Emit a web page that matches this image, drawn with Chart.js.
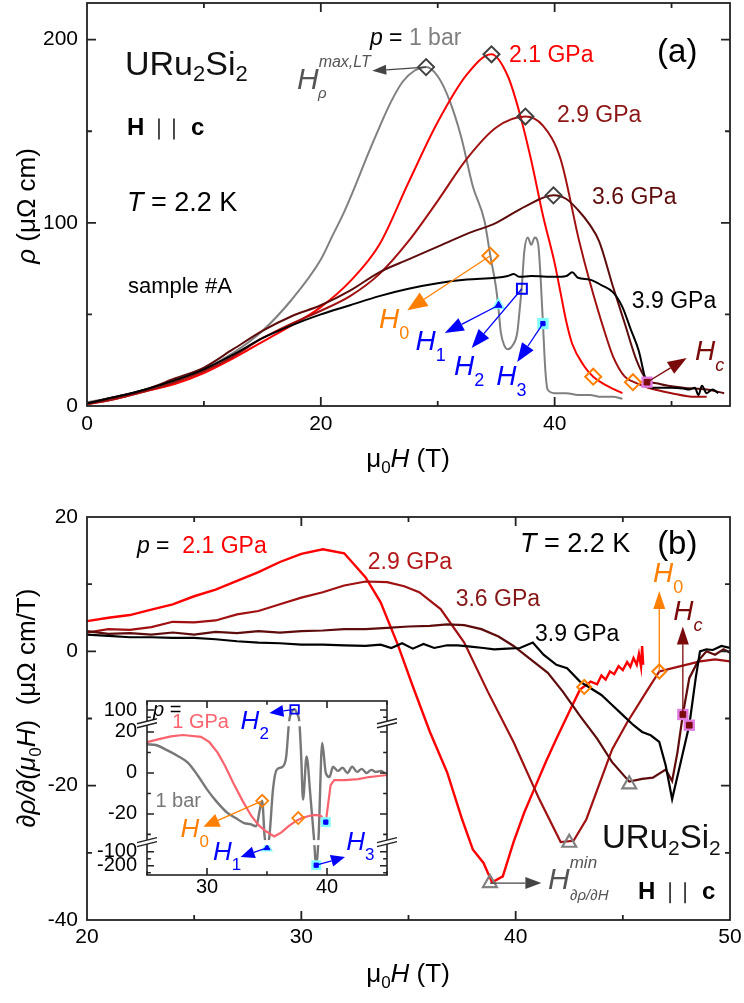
<!DOCTYPE html>
<html>
<head>
<meta charset="utf-8">
<script src="https://cdn.jsdelivr.net/npm/chart.js@4/dist/chart.umd.min.js"></script>
<style>
body { margin: 0; background: #fff; }
#wrap { position: relative; width: 744px; height: 1003px; }
canvas { position: absolute; }
</style>
</head>
<body>
<div id="wrap">
<canvas id="chartA" width="744" height="480" style="left:0;top:0"></canvas>
<canvas id="chartB" width="744" height="523" style="left:0;top:480px"></canvas>
<canvas id="chartIn" width="305" height="215" style="left:95px;top:690px"></canvas>
</div>
<script>
// ---------- panel (a): rho vs mu0H ----------
var fieldA1bar = [0, 2.5, 5, 7.5, 10, 12.5, 15, 17.5, 20, 21, 22, 23, 24, 25, 26, 27, 28, 29, 30, 31, 32, 33, 34, 34.5, 35.0, 35.2, 35.4, 35.7, 36.0, 36.4, 36.8, 37.0, 37.2, 37.4, 37.7, 38.0, 38.3, 38.6, 38.8, 39.0, 39.2, 39.4, 40, 41, 42, 43, 44, 45, 45.8];
var rhoA1bar   = [2, 5, 9, 14, 20, 29, 41, 58, 80, 93, 106, 121, 137, 152, 166, 177, 183, 185, 180, 167, 147, 120, 101, 82, 64, 53, 40, 33, 31, 33, 40, 52, 66, 84, 92, 88, 92, 88, 70, 45, 20, 9, 7, 7, 6, 6, 5, 5, 4];
var fieldA21 = [0, 2.5, 5, 7.5, 10, 12.5, 15, 17.5, 20, 22.5, 25, 27.5, 30, 32.5, 34.6, 36, 37, 38, 39, 40, 40.5, 41, 41.5, 42.5, 43.3, 44.5, 45.8];
var rhoA21   = [1, 4, 8, 12, 18, 26, 35, 44, 54, 68, 88, 122, 155, 181, 192, 180, 160, 134, 104, 78, 62, 46, 34, 22, 16, 11, 7];
var fieldA29 = [0, 2.5, 5, 7.5, 10, 12.5, 15, 17.5, 20, 22.5, 25, 27.5, 30, 32.5, 35, 37.5, 39, 40.5, 42.1, 43, 44.3, 45, 46, 46.8, 48, 50, 52, 53];
var rhoA29   = [1, 4, 8, 13, 19, 27, 37, 45, 52, 60, 72, 90, 112, 135, 152, 158, 153, 135, 90, 68, 40, 27, 16, 13, 10, 7, 5, 5];
var fieldA36 = [0, 2.5, 5, 7.5, 10, 12.5, 15, 17.5, 20, 22.5, 25, 27.5, 30, 32.5, 35, 37.5, 39.9, 41, 42, 43, 43.8, 45, 46, 47, 47.8, 49, 51, 53, 54.5];
var rhoA36   = [1.5, 5, 9, 15, 21, 31, 41, 49, 55, 63, 73, 80, 87, 94, 100, 109, 115, 113, 107, 99, 90, 65, 45, 25, 15, 12, 10, 9, 7];
var fieldA39 = [0, 2.5, 5, 7.5, 10, 12.5, 15, 17.5, 20, 22.5, 25, 27.5, 30, 32.5, 35, 36, 36.5, 37, 38, 40, 41, 41.5, 42, 43, 44, 45, 45.8, 46.5, 47.2, 47.8, 48.3, 49, 50, 51, 51.5, 52, 52.3, 52.6, 53, 53.5, 54];
var rhoA39   = [1.5, 5, 9, 14, 20, 28, 37, 44, 50, 55, 60, 64, 67, 69, 70, 71, 72, 70.5, 71, 70.5, 71, 73, 70, 69, 66, 62, 54, 42, 30, 14, 10, 10, 10, 9.5, 9, 10, 6, 11, 7, 9, 7];
// markers (a)
var hmaxFieldA = [29, 34.6, 37.5, 39.9];
var hmaxRhoA   = [185, 192, 158, 115];
var h0FieldA = [34.5, 43.3, 46.7];
var h0RhoA   = [82, 16, 13];
var h1A = [[35.2, 55]];
var h2A = [[37.2, 64]];
var h3A = [[39.0, 45]];
var hcA = [[47.9, 13]];

// ---------- panel (b): d rho / d(mu0H) ----------
var fieldB21 = [20, 21, 22, 23, 24, 25, 26, 27, 28, 29, 30, 31, 32, 33, 33.7, 34.5, 35.2, 36, 36.8, 37.5, 38, 38.5, 38.9, 39.4, 39.9, 40.4, 40.8, 41.4, 41.9, 42.5, 43, 43.5, 43.8, 44.0, 44.2, 44.4, 44.6, 44.8, 45.0, 45.2, 45.35, 45.5, 45.65, 45.75, 45.85, 45.9, 45.95];
var dB21     = [4.5, 5, 5.4, 6.2, 7, 8.2, 9.2, 10.5, 11.8, 13.3, 14.5, 15.2, 14.6, 11, 7.3, 1, -5.2, -12, -18, -25, -29.5, -31.5, -34.4, -33.5, -28.4, -24, -21, -16.5, -13, -9, -5.7, -4.5, -4.9, -3.6, -4.2, -3, -3.4, -2.2, -2.8, -1.6, -2.3, -1.0, -2.0, -0.4, -2.3, 0.8, -2.0];
var fieldB29 = [20, 21, 22, 23, 24, 25, 26, 27, 28, 29, 30, 31, 32, 33, 34, 34.8, 35.5, 36.5, 37.6, 38.7, 39.9, 41.1, 42.1, 42.7, 43.3, 44.5, 45.2, 46.1, 46.7, 47.7, 48.6, 49.3, 50];
var dB29     = [2.8, 3.3, 3.2, 3.6, 4.4, 4.3, 4.6, 5.5, 6, 7, 8, 8.8, 9.8, 10.4, 10.3, 9.7, 8.8, 6.3, 1.3, -6, -13.5, -22, -28.4, -28.2, -25, -14.6, -10.6, -6, -3, -2.2, -1.5, -1.2, -1.5];
var fieldB36 = [20, 21, 22, 23, 24, 25, 26, 27, 28, 29, 30, 31, 32, 33, 34, 35, 36, 36.8, 37.6, 38.4, 39.2, 39.9, 40.7, 41.5, 42.2, 43, 43.8, 44.5, 45.3, 45.9, 46.4, 47, 47.3, 47.55, 47.8, 48.1, 48.5, 48.9, 49.3, 49.7, 50];
var dB36     = [3, 2.6, 2.7, 2.5, 2.8, 2.5, 2.9, 2.7, 3, 2.8, 3, 3.1, 3.3, 3.3, 3.5, 3.7, 3.8, 4, 3.9, 3.3, 2.2, 0.8, -1.2, -3.2, -6, -9.6, -13, -16.5, -19.4, -19, -18.8, -17.6, -19.3, -15, -9.4, -4, -1.5, 0, -0.5, 0.3, -0.2];
var fieldB39 = [20, 21, 22, 23, 24, 25, 26, 27, 28, 29, 30, 31, 32, 33, 33.7, 34.2, 34.7, 35.2, 35.7, 36.2, 36.8, 37.3, 37.9, 38.5, 39, 39.6, 40.2, 40.8, 41.3, 41.9, 42.4, 43, 43.5, 44, 44.5, 45, 45.5, 45.9, 46.3, 46.7, 47.0, 47.3, 47.7, 48.1, 48.4, 48.6, 48.9, 49.2, 49.6, 50];
var dB39     = [2.5, 2.3, 2.1, 2.1, 2, 2, 1.8, 1.5, 1.3, 1.2, 1, 1, 0.9, 0.8, 1, 0.5, 1.2, 0.4, 1.1, 0.5, 0.9, 0.9, 0.7, 0.5, 0.3, 0.4, 0.5, 1.3, -0.5, -2, -2.5, -4.5, -5.5, -6.5, -8, -9.5, -11, -12, -12.5, -13.5, -17, -22, -16.5, -11, -4, 0, 0.3, 0.2, 0.8, 0.5];
// markers (b)
var hminFieldB = [38.8, 42.5, 45.3];
var hminB      = [-34.5, -28.5, -19.8];
var h0FieldB = [43.2, 46.7];
var h0B      = [-5.3, -3];
var hcFieldB = [47.8, 48.1];
var hcB      = [-9.4, -11];

// ---------- inset: broken y axis ----------
var fieldIn1GPa = [25, 26, 27, 28, 29.5, 30.2, 30.9, 31.5, 32.2, 33, 33.7, 34.3, 34.8, 35.6, 36.2, 36.8, 37.4, 37.9, 38.5, 39, 39.5, 39.9, 40.1, 40.3, 40.6, 41.5, 42.6, 43.5, 44.3, 45];
var dIn1GPa     = [15, 16.5, 17.8, 18.5, 17.6, 15, 9.8, 3.5, -5, -14, -21, -25.5, -28, -31, -29, -26, -23.5, -22, -21, -20.5, -21, -24, -15, -6, -3.5, -3.5, -3, -2, -1.5, -1];
var fieldIn1bar = [25, 25.8, 26.7, 27.5, 28.4, 29.2, 30, 30.8, 31.7, 32.4, 33.1, 33.6, 34.1, 34.4, 34.6, 34.8, 35.0, 35.2, 35.5, 35.8, 36.3, 36.6, 36.85, 37.05, 37.3, 37.5, 37.7, 37.85, 38.0, 38.3, 38.6, 38.9, 39.1, 39.3, 39.6, 39.9, 40.2, 40.5, 40.9, 41.3, 41.7, 42.1, 42.5, 42.9, 43.3, 43.7, 44.1, 44.5, 44.8];
var dIn1bar     = [14, 13.5, 11, 8.5, 5, -1, -8, -14, -19.5, -22, -24.5, -25, -26, -18, -13.6, -31, -72, -31, -8, 1.5, 3, 8, 40, 90, 104, 80, 30, 8, -13, 8, -10, -31, -196, -31, 14.6, 0, -2, 3, 1, 2.5, 0, 3, 0.5, 2, 0, 1.5, 0.5, 1, 0];
var insetYTicks = [100, 20, 0, -20, -100, -200];
var insetYMinor = [60, 10, -10, -30, -150, -250];
var insetBreaks = [24, -34];
var h0FieldIn = [34.6, 37.6];
var h0In      = [-13.6, -22];
var h1In = [[35.0, -72]];
var h2In = [[37.3, 104]];
var h3In = [[39.1, -196], [39.9, -24]];

// piecewise map of the broken inset axis
function brk(v) {
    if (v > 24) return 24 + (v - 24) * 0.088;
    if (v < -34) return -34 + (v + 34) * 0.068;
    return v;
}

var F = '"Liberation Sans", Arial, Helvetica, sans-serif';
function n(s) { return s + 'px ' + F; }
function it(s) { return 'italic ' + s + 'px ' + F; }
function bd(s) { return 'bold ' + s + 'px ' + F; }
Chart.defaults.font.family = F;
Chart.defaults.color = '#000';

// markers must not push the plot frame inward
if (Chart.ScatterController) {
    Chart.ScatterController.prototype.getMaxOverflow = function () { return 0; };
}

var GRAY = '#808080', RED = '#ff0000', R29 = '#a01010', R36 = '#5e0b0b';
var PINK = '#f9636e', ORANGE = '#ff8000', BLUE = '#0000ff', CYAN = '#80ffff';
var MAG = '#e27be2', DKRED = '#7a0a0a', DGRAY = '#404040';

function pts(xs, ys, tf) {
    return xs.map(function (x, i) { return { x: x, y: tf ? tf(ys[i]) : ys[i] }; });
}
function pairs(arr, tf) {
    return arr.map(function (p) { return { x: p[0], y: tf ? tf(p[1]) : p[1] }; });
}
function line(data, color, w, smooth) {
    return { data: data, showLine: true, borderColor: color, backgroundColor: color, borderWidth: w,
        pointRadius: 0, pointHoverRadius: 0, fill: false, tension: 0,
        cubicInterpolationMode: smooth ? 'monotone' : 'default' };
}
function mark(data, style, r, bg, bc, bw) {
    return { data: data, showLine: false, pointStyle: style, pointRadius: r, pointHoverRadius: r,
        pointBackgroundColor: bg, pointBorderColor: bc, pointBorderWidth: bw,
        backgroundColor: bg, borderColor: bc };
}

function arrow(ctx, x1, y1, x2, y2, c, w, hl, hw) {
    var a = Math.atan2(y2 - y1, x2 - x1);
    var bx = x2 - hl * Math.cos(a), by = y2 - hl * Math.sin(a);
    ctx.strokeStyle = c; ctx.fillStyle = c; ctx.lineWidth = w;
    ctx.beginPath(); ctx.moveTo(x1, y1); ctx.lineTo(bx, by); ctx.stroke();
    ctx.beginPath(); ctx.moveTo(x2, y2);
    ctx.lineTo(bx - hw * Math.sin(a), by + hw * Math.cos(a));
    ctx.lineTo(bx + hw * Math.sin(a), by - hw * Math.cos(a));
    ctx.closePath(); ctx.fill();
}

// parts: [text, font, color, dy]
function rich(ctx, x, y, parts, align) {
    var w = 0;
    parts.forEach(function (p) { ctx.font = p[1]; w += ctx.measureText(p[0]).width; });
    var cx = align === 'center' ? x - w / 2 : x;
    ctx.textAlign = 'left'; ctx.textBaseline = 'middle';
    parts.forEach(function (p) {
        ctx.font = p[1]; ctx.fillStyle = p[2] || '#000';
        ctx.fillText(p[0], cx, y + (p[3] || 0));
        cx += ctx.measureText(p[0]).width;
    });
}

function hParC(ctx, x, y) {
    rich(ctx, x, y, [['H', bd(24), '#000']]);
    ctx.strokeStyle = '#000'; ctx.lineWidth = 1.4;
    ctx.beginPath();
    ctx.moveTo(x + 32, y - 10); ctx.lineTo(x + 32, y + 11);
    ctx.moveTo(x + 47, y - 10); ctx.lineTo(x + 47, y + 11);
    ctx.stroke();
    rich(ctx, x + 64, y, [['c', bd(24), '#000']]);
}

function deco(cfg) {
    return {
        id: 'deco',
        beforeDatasetsDraw: function (chart) {
            if (!cfg.bg) return;
            var a = chart.chartArea, ctx = chart.ctx;
            ctx.save(); ctx.fillStyle = '#fff'; ctx.fillRect(a.left, a.top, a.width, a.height); ctx.restore();
        },
        afterDatasetsDraw: function (chart) {
            var ctx = chart.ctx, a = chart.chartArea, sx = chart.scales.x, sy = chart.scales.y;
            var X = function (v) { return sx.getPixelForValue(v); };
            var Y = function (v) { return sy.getPixelForValue(v); };
            ctx.save();
            (cfg.breaks || []).forEach(function (b) {
                ctx.fillStyle = '#fff'; ctx.fillRect(a.left, Y(b) - 2.5, a.width, 5);
            });
            ctx.strokeStyle = '#222'; ctx.lineWidth = cfg.lw;
            ctx.strokeRect(a.left, a.top, a.width, a.height);
            function tk(vals, len, axis) {
                vals.forEach(function (v) {
                    ctx.beginPath();
                    if (axis === 'x') {
                        var x = X(v);
                        ctx.moveTo(x, a.bottom); ctx.lineTo(x, a.bottom - len);
                        ctx.moveTo(x, a.top); ctx.lineTo(x, a.top + len);
                    } else {
                        var y = Y(v);
                        ctx.moveTo(a.left, y); ctx.lineTo(a.left + len, y);
                        ctx.moveTo(a.right, y); ctx.lineTo(a.right - len, y);
                    }
                    ctx.stroke();
                });
            }
            tk(cfg.xMajor, cfg.tl, 'x'); tk(cfg.xMinor, cfg.tl * 0.55, 'x');
            tk(cfg.yMajor, cfg.tl, 'y'); tk(cfg.yMinor, cfg.tl * 0.55, 'y');
            (cfg.breaks || []).forEach(function (b) {
                var y = Y(b);
                [a.left, a.right].forEach(function (x) {
                    ctx.fillStyle = '#fff';
                    ctx.beginPath(); ctx.moveTo(x - 10, y + 4); ctx.lineTo(x + 10, y - 1);
                    ctx.lineTo(x + 10, y - 5); ctx.lineTo(x - 10, y); ctx.closePath(); ctx.fill();
                    ctx.strokeStyle = '#222'; ctx.lineWidth = 1.3;
                    ctx.beginPath(); ctx.moveTo(x - 10, y + 4); ctx.lineTo(x + 10, y - 1);
                    ctx.moveTo(x - 10, y); ctx.lineTo(x + 10, y - 5); ctx.stroke();
                });
            });
            (cfg.arrows || []).forEach(function (r) {
                arrow(ctx, X(r.from[0]), Y(r.from[1]), X(r.to[0]), Y(r.to[1]), r.c, r.w || 1.3, r.hl, r.hw);
            });
            ctx.restore();
        },
        afterDraw: function (chart) {
            var ctx = chart.ctx, sx = chart.scales.x, sy = chart.scales.y;
            ctx.save();
            (cfg.texts || []).forEach(function (t) {
                var x = sx.getPixelForValue(t.at[0]), y = sy.getPixelForValue(t.at[1]);
                if (t.hc) hParC(ctx, x, y); else rich(ctx, x, y, t.parts, 'left');
            });
            (cfg.titles || []).forEach(function (t) {
                ctx.save(); ctx.translate(t.px[0], t.px[1]);
                if (t.rot) ctx.rotate(-Math.PI / 2);
                rich(ctx, 0, 0, t.parts, 'center');
                ctx.restore();
            });
            ctx.restore();
        }
    };
}

function scales(xr, yr, xt, yt, fs, yw, xh, px, py, ylab) {
    return {
        x: { type: 'linear', min: xr[0], max: xr[1],
            grid: { display: false, drawTicks: false }, border: { display: false },
            afterBuildTicks: function (s) { s.ticks = xt.map(function (v) { return { value: v }; }); },
            afterFit: function (s) { s.height = xh; s.paddingLeft = 0; s.paddingRight = 0; },
            ticks: { font: { size: fs }, padding: px, maxRotation: 0, color: '#000' } },
        y: { type: 'linear', min: yr[0], max: yr[1],
            grid: { display: false, drawTicks: false }, border: { display: false },
            afterBuildTicks: function (s) { s.ticks = yt.map(function (v) { return { value: v }; }); },
            afterFit: function (s) { s.width = yw; s.paddingTop = 0; s.paddingBottom = 0; },
            ticks: { font: { size: fs }, padding: py, color: '#000',
                callback: ylab || function (v) { return String(v); } } }
    };
}

var common = { responsive: false, animation: false, devicePixelRatio: 1,
    plugins: { legend: { display: false }, tooltip: { enabled: false } } };

// ---------- chart (a) ----------
new Chart(document.getElementById('chartA'), {
    type: 'scatter',
    data: { datasets: [
        mark(pts(hmaxFieldA, hmaxRhoA), 'rectRot', 8, 'rgba(0,0,0,0)', DGRAY, 2),
        mark(pts(h0FieldA, h0RhoA), 'rectRot', 8, 'rgba(0,0,0,0)', ORANGE, 2),
        mark(pairs(h2A), 'rect', 7, 'rgba(0,0,0,0)', BLUE, 2),
        mark(pairs(h1A), 'triangle', 4, BLUE, BLUE, 1),
        mark(pairs(h1A), 'triangle', 8, CYAN, CYAN, 0),
        mark(pairs(h3A), 'rect', 3, BLUE, BLUE, 1),
        mark(pairs(h3A), 'rect', 8, CYAN, CYAN, 0),
        mark(pairs(hcA), 'rect', 4, DKRED, DKRED, 1),
        mark(pairs(hcA), 'rect', 8, MAG, MAG, 0),
        line(pts(fieldA39, rhoA39), '#000', 2, true),
        line(pts(fieldA36, rhoA36), R36, 2, true),
        line(pts(fieldA29, rhoA29), R29, 2, true),
        line(pts(fieldA21, rhoA21), RED, 2, true),
        line(pts(fieldA1bar, rhoA1bar), GRAY, 2, true)
    ] },
    options: Object.assign({}, common, {
        layout: { padding: { left: 0, right: 14, top: 3, bottom: 0 } },
        scales: scales([0, 55], [0, 220], [0, 20, 40], [0, 100, 200], 21, 87, 74, 6, 9)
    }),
    plugins: [deco({
        lw: 1.8, tl: 9,
        xMajor: [20, 40], xMinor: [10, 30, 50], yMajor: [100, 200], yMinor: [50, 150],
        arrows: [
            { from: [29, 185], to: [24.4, 183], c: '#444', hl: 14, hw: 5 },
            { from: [34.5, 82], to: [27.4, 52.3], c: ORANGE, hl: 20, hw: 8 },
            { from: [35.2, 55], to: [30.6, 39.8], c: BLUE, hl: 19, hw: 7 },
            { from: [37.2, 64], to: [32.9, 31.6], c: BLUE, hl: 19, hw: 7 },
            { from: [39.0, 45], to: [36.8, 24], c: BLUE, hl: 19, hw: 7 },
            { from: [47.9, 13], to: [51.3, 26.2], c: DKRED, hl: 19, hw: 7 }
        ],
        texts: [
            { at: [24.2, 200.5], parts: [['p', it(23), '#000'], [' = ', n(23), '#000'], ['1 bar', n(23), GRAY]] },
            { at: [36.1, 191], parts: [['2.1 GPa', n(23), RED]] },
            { at: [40.2, 158.6], parts: [['2.9 GPa', n(23), '#8c1414']] },
            { at: [43.2, 113.9], parts: [['3.6 GPa', n(23), R36]] },
            { at: [46.6, 56.7], parts: [['3.9 GPa', n(23), '#000']] },
            { at: [48.76, 192.9], parts: [['(a)', n(33), '#000']] },
            { at: [3.25, 186], parts: [['URu', n(34), '#111'], ['2', n(22), '#111', 10], ['Si', n(34), '#111'], ['2', n(22), '#111', 10]] },
            { at: [3.42, 151.5], hc: true },
            { at: [3.42, 110.6], parts: [['T', it(27), '#000'], [' = 2.2 K', n(27), '#000']] },
            { at: [3.5, 64.9], parts: [['sample #A', n(22), '#000']] },
            { at: [17.96, 177.7], parts: [['H', it(30), '#555'], ['max,LT', it(16), '#555', -18]] },
            { at: [19.76, 170.6], parts: [['ρ', it(15), '#555']] },
            { at: [24.98, 46.9], parts: [['H', it(28), ORANGE], ['0', n(18), ORANGE, 14]] },
            { at: [28.1, 34.9], parts: [['H', it(28), BLUE], ['1', n(18), BLUE, 14]] },
            { at: [31.4, 21.3], parts: [['H', it(28), BLUE], ['2', n(18), BLUE, 14]] },
            { at: [35.0, 15.8], parts: [['H', it(28), BLUE], ['3', n(18), BLUE, 14]] },
            { at: [52.0, 29.4], parts: [['H', it(28), DKRED], ['c', it(18), DKRED, 14]] }
        ],
        titles: [
            { px: [408, 460], parts: [['μ', n(26)], ['0', n(17), '#000', 8], ['H', it(26)], [' (T)', n(26)]] },
            { px: [28, 206], rot: true, parts: [['ρ', it(26)], [' (μΩ cm)', n(26)]] }
        ]
    })]
});

// ---------- chart (b) ----------
new Chart(document.getElementById('chartB'), {
    type: 'scatter',
    data: { datasets: [
        mark(pts(hminFieldB, hminB), 'triangle', 8, 'rgba(0,0,0,0)', GRAY, 2.2),
        mark(pts(h0FieldB, h0B), 'rectRot', 7, 'rgba(0,0,0,0)', ORANGE, 2),
        mark(pts(hcFieldB, hcB), 'rect', 4, DKRED, DKRED, 1),
        mark(pts(hcFieldB, hcB), 'rect', 8, MAG, MAG, 0),
        line(pts(fieldB39, dB39), '#000', 2.2, false),
        line(pts(fieldB36, dB36), R36, 2.2, false),
        line(pts(fieldB29, dB29), R29, 2.2, false),
        line(pts(fieldB21, dB21), RED, 2.4, false)
    ] },
    options: Object.assign({}, common, {
        layout: { padding: { left: 0, right: 14, top: 37, bottom: 0 } },
        scales: scales([20, 50], [-40, 20], [20, 30, 40, 50], [-40, -20, 0, 20], 21, 87, 83, 5, 9)
    }),
    plugins: [deco({
        lw: 1.8, tl: 9,
        xMajor: [30, 40], xMinor: [25, 35, 45], yMajor: [-20, 0], yMinor: [-30, -10, 10],
        arrows: [
            { from: [46.7, -3], to: [46.7, 9], c: ORANGE, hl: 18, hw: 6 },
            { from: [47.8, -9.4], to: [47.8, 3.7], c: DKRED, hl: 18, hw: 6 },
            { from: [38.8, -34.5], to: [41.2, -34.5], c: '#444', hl: 16, hw: 6 }
        ],
        texts: [
            { at: [22.33, 15.6], parts: [['p', it(23), '#000'], [' =  ', n(23), '#000'], ['2.1 GPa', n(23), RED]] },
            { at: [33.1, 13.2], parts: [['2.9 GPa', n(23), '#b41818']] },
            { at: [37.2, 7.7], parts: [['3.6 GPa', n(23), '#861616']] },
            { at: [40.9, 2.5], parts: [['3.9 GPa', n(23), '#000']] },
            { at: [40.2, 15.9], parts: [['T', it(27), '#000'], [' = 2.2 K', n(27), '#000']] },
            { at: [46.6, 15.9], parts: [['(b)', n(33), '#000']] },
            { at: [44.03, -28], parts: [['URu', n(33), '#111'], ['2', n(21), '#111', 10], ['Si', n(33), '#111'], ['2', n(21), '#111', 10]] },
            { at: [45.71, -35.86], hc: true },
            { at: [46.41, 11.46], parts: [['H', it(28), ORANGE], ['0', n(18), ORANGE, 14]] },
            { at: [47.35, 5.8], parts: [['H', it(28), DKRED], ['c', it(18), DKRED, 14]] },
            { at: [41.51, -34.2], parts: [['H', it(30), '#555'], ['min', it(17), '#555', -18]] },
            { at: [42.54, -36.46], parts: [['∂ρ/∂H', it(15), '#555']] }
        ],
        titles: [
            { px: [408, 495], parts: [['μ', n(26)], ['0', n(17), '#000', 8], ['H', it(26)], [' (T)', n(26)]] },
            { px: [28, 228], rot: true, parts: [['∂ρ/∂(μ', it(26)], ['0', n(17), '#000', 8], ['H', it(26)], [')  (μΩ cm/T)', n(26)]] }
        ]
    })]
});

// ---------- inset ----------
new Chart(document.getElementById('chartIn'), {
    type: 'scatter',
    data: { datasets: [
        mark(pts(h0FieldIn, h0In, brk), 'rectRot', 6, 'rgba(0,0,0,0)', ORANGE, 1.8),
        mark(pairs(h2In, brk), 'rect', 6, 'rgba(0,0,0,0)', BLUE, 1.8),
        mark(pairs(h1In, brk), 'triangle', 3.5, BLUE, BLUE, 1),
        mark(pairs(h1In, brk), 'triangle', 7, CYAN, CYAN, 0),
        mark(pairs(h3In, brk), 'rect', 3, BLUE, BLUE, 1),
        mark(pairs(h3In, brk), 'rect', 7, CYAN, CYAN, 0),
        line(pts(fieldIn1GPa, dIn1GPa, brk), PINK, 2.2, false),
        line(pts(fieldIn1bar, dIn1bar, brk), '#777', 2.4, true)
    ] },
    options: Object.assign({}, common, {
        layout: { padding: { left: 0, right: 13, top: 11, bottom: 0 } },
        scales: scales([25, 45], [-49.8, 35.1], [30, 40], insetYTicks.map(brk), 20, 52, 30, 0, 10,
            function (v, i) { return String(insetYTicks[i]); })
    }),
    plugins: [deco({
        bg: true, lw: 1.6, tl: 7,
        xMajor: [30, 40], xMinor: [25, 35, 45],
        yMajor: insetYTicks.map(brk), yMinor: insetYMinor.map(brk),
        breaks: insetBreaks,
        arrows: [
            { from: [37.3, brk(104)], to: [35.2, 29.3], c: BLUE, hl: 14, hw: 6 },
            { from: [34.6, -13.6], to: [29.7, -26.3], c: ORANGE, hl: 16, hw: 7 },
            { from: [35.0, brk(-72)], to: [32.8, -41], c: BLUE, hl: 14, hw: 6 },
            { from: [39.1, brk(-196)], to: [41.5, -41], c: BLUE, hl: 14, hw: 6 }
        ],
        texts: [
            { at: [25.5, 30.7], parts: [['p', it(20), '#000'], [' =', n(20), '#000']] },
            { at: [27.1, 24.4], parts: [['1 GPa', n(20), PINK]] },
            { at: [25.7, -14.1], parts: [['1 bar', n(20), '#777']] },
            { at: [32.8, 24.9], parts: [['H', it(26), BLUE], ['2', n(17), BLUE, 12]] },
            { at: [27.8, -27.8], parts: [['H', it(26), ORANGE], ['0', n(17), ORANGE, 12]] },
            { at: [30.5, -39], parts: [['H', it(26), BLUE], ['1', n(17), BLUE, 12]] },
            { at: [41.6, -34.1], parts: [['H', it(26), BLUE], ['3', n(17), BLUE, 12]] }
        ]
    })]
});
</script>
</body>
</html>
